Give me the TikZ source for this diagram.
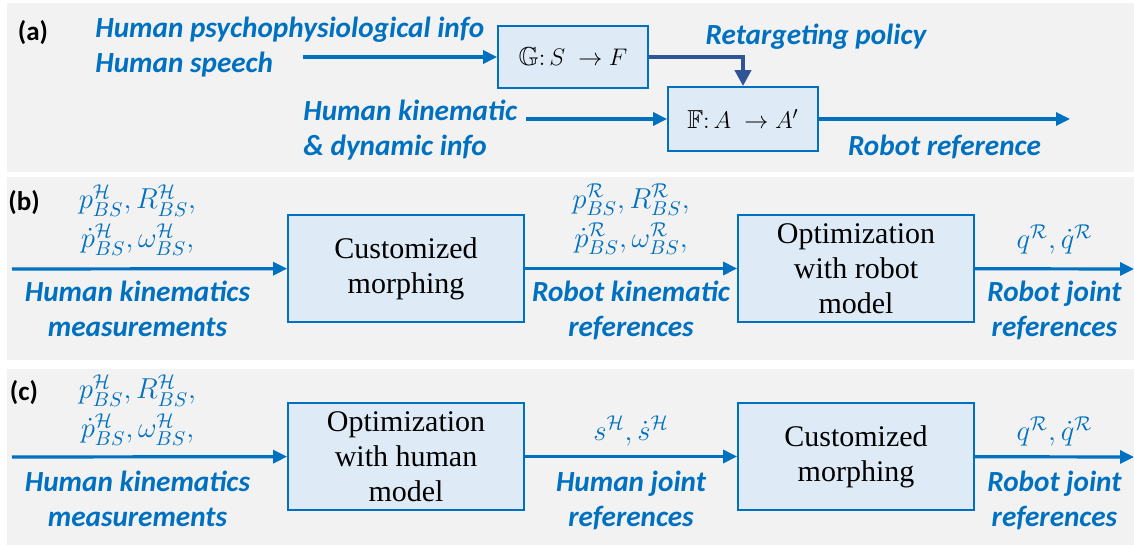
\documentclass[tikz,border=0pt]{standalone}
\usepackage{fontspec}
\usepackage{amssymb}
\usepackage{amsmath}
\setmainfont{Liberation Serif}
\newfontfamily\lblfont{Carlito}
\usetikzlibrary{arrows.meta,positioning}
\definecolor{refblue}{HTML}{0070C0}
\definecolor{policyblue}{HTML}{2F5597}
\definecolor{boxfill}{HTML}{DEEBF7}
\definecolor{panelgray}{HTML}{F2F2F2}

\begin{document}
\begin{tikzpicture}[x=0.5pt,y=-0.5pt,>={Triangle[length=7pt,width=6.5pt]},
    flow/.style={->,draw=refblue,line width=1.6pt},
    policy/.style={->,draw=policyblue,line width=2pt,>={Triangle[length=8pt,width=8pt]}},
    block/.style={draw=refblue,line width=0.9pt,fill=boxfill,align=center,inner sep=0pt,
      font=\fontsize{15}{17.5}\selectfont,minimum width=118pt,minimum height=53.5pt},
    mapbox/.style={block,font=\fontsize{13}{15}\selectfont,minimum width=75pt,minimum height=31pt},
    lbl/.style={text=refblue,font=\lblfont\bfseries\itshape\fontsize{14.6}{17.5}\selectfont,
      align=center,inner sep=0pt},
    sym/.style={text=refblue,font=\fontsize{13.6}{19.5}\selectfont,align=center,inner sep=0pt},
    tag/.style={font=\lblfont\bfseries\fontsize{13.5}{16}\selectfont,inner sep=0pt}]

  \useasboundingbox (0,0) rectangle (1134,545);
  \fill[panelgray] (7,3) rectangle (1134,172);
  \fill[panelgray] (7,177) rectangle (1134,360);
  \fill[panelgray] (7,369) rectangle (1134,545);

  % (a) retargeting policy
  \node[tag] (taga) at (33,33) {(a)};
  \node[lbl,align=left,anchor=west] (psy) at (95,47) {Human psychophysiological info\\Human speech};
  \node[lbl,align=left,anchor=west] (kinlbl) at (303,130) {Human kinematic\\\& dynamic info};
  \node[lbl] (pol) at (816,37) {Retargeting policy};
  \node[mapbox] (g) at (573,57) {$\mathbb{G}{:}\,S\ \rightarrow F$};
  \node[mapbox,minimum height=32pt] (f) at (743,119) {$\mathbb{F}{:}\,A\ \rightarrow A'$};
  \coordinate (sin) at (303,57);
  \coordinate (kin) at (526,119);
  \coordinate (rout) at (1070,119);

  \draw[flow] (sin) -- (g);
  \draw[policy] (g.east) -| (f.north);
  \draw[flow] (kin) -- (f);
  \path (f) edge[flow] node[lbl,below=7pt] (rref) {Robot reference} (rout);

  % (b) morphing, then robot model
  \node[tag] (tagb) at (24,203) {(b)};
  \node[block] (cm1) at (406,268.5) {Customized\\morphing};
  \node[block] (opt1) at (856,268.5) {Optimization\\with robot\\model};
  \coordinate (hin1) at (12,269);
  \coordinate (qout1) at (1134,269);

  \path (hin1) edge[flow] node[sym,above=6pt,pos=0.456] (hsym1)
          {$p^{\mathcal{H}}_{BS}, R^{\mathcal{H}}_{BS},$\\$\dot{p}^{\mathcal{H}}_{BS}, \omega^{\mathcal{H}}_{BS},$}
          node[lbl,below=5.5pt,pos=0.456] (hkm1) {Human kinematics\\measurements} (cm1)
        (cm1) edge[flow] node[sym,above=6pt] (rsym1)
          {$p^{\mathcal{R}}_{BS}, R^{\mathcal{R}}_{BS},$\\$\dot{p}^{\mathcal{R}}_{BS}, \omega^{\mathcal{R}}_{BS},$}
          node[lbl,below=5.5pt] (rkin1) {Robot kinematic\\references} (opt1)
        (opt1) edge[flow] node[sym,above=6.5pt] (qsym1) {$q^{\mathcal{R}}, \dot{q}^{\mathcal{R}}$}
          node[lbl,below=5.5pt] (rjr1) {Robot joint\\references} (qout1);

  % (c) human model, then morphing
  \node[tag] (tagc) at (24,393) {(c)};
  \node[block] (opt2) at (406,456.5) {Optimization\\with human\\model};
  \node[block] (cm2) at (856,456.5) {Customized\\morphing};
  \coordinate (hin2) at (12,457);
  \coordinate (qout2) at (1134,457);

  \path (hin2) edge[flow] node[sym,above=5pt,pos=0.456] (hsym2)
          {$p^{\mathcal{H}}_{BS}, R^{\mathcal{H}}_{BS},$\\$\dot{p}^{\mathcal{H}}_{BS}, \omega^{\mathcal{H}}_{BS},$}
          node[lbl,below=6.5pt,pos=0.456] (hkm2) {Human kinematics\\measurements} (opt2)
        (opt2) edge[flow] node[sym,above=4.5pt] (ssym2) {$s^{\mathcal{H}}, \dot{s}^{\mathcal{H}}$}
          node[lbl,below=6.5pt] (hjr2) {Human joint\\references} (cm2)
        (cm2) edge[flow] node[sym,above=4.5pt] (qsym2) {$q^{\mathcal{R}}, \dot{q}^{\mathcal{R}}$}
          node[lbl,below=6.5pt] (rjr2) {Robot joint\\references} (qout2);
\end{tikzpicture}
\end{document}
